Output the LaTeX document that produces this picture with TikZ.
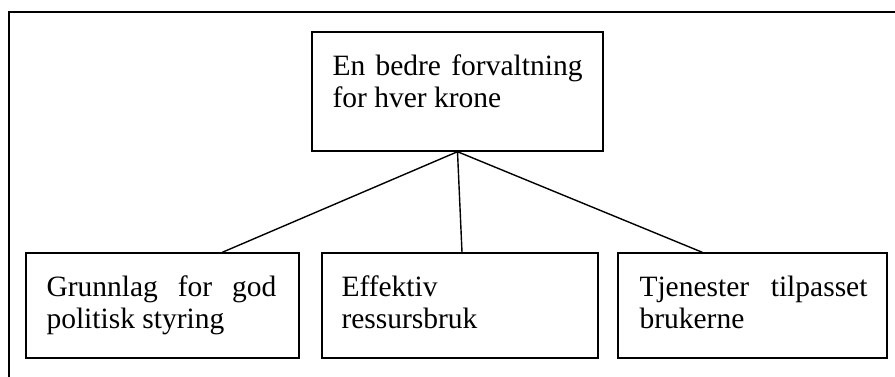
\documentclass[tikz,border=0pt]{standalone}
\usepackage{fontspec}
\setmainfont{Liberation Serif}
\usetikzlibrary{calc}
\tikzset{
  box/.style={draw=black, line width=1.4pt, rectangle, inner sep=0pt},
  txt/.style={inner sep=0pt, anchor=base west, text=black},
  link/.style={draw=black, line width=1.4pt},
  frame/.style={draw=black, line width=1.5pt}
}
\newcommand{\boxtext}[2]{\parbox[t]{#1}{\fontsize{29.5}{32.5}\selectfont\tolerance=10000\hbadness=10000\parindent=0pt #2}}
\begin{document}
\begin{tikzpicture}[x=1pt,y=-1pt]
\useasboundingbox (0,0) rectangle (895,376);
\clip (0,0) rectangle (895,376);
\fill[white] (0,0) rectangle (895,376);
\draw[frame] (9,12) rectangle (905,390);
% boxes
\node[box, minimum width=291pt, minimum height=119pt] (b0) at (457.5,91.5) {};
\node[box, minimum width=273pt, minimum height=105pt] (b1) at (162.5,305.5) {};
\node[box, minimum width=276pt, minimum height=105pt] (b2) at (460,305.5) {};
\node[box, minimum width=269pt, minimum height=105pt] (b3) at (752.5,305.5) {};
% texts
\node[txt] (t0) at ($(b0.north west)+(21,44)$) {\boxtext{250pt}{En bedre forvaltning for hver krone}};
\node[txt] (t1) at ($(b1.north west)+(21,44)$) {\boxtext{230pt}{Grunnlag for god politisk styring}};
\node[txt] (t2) at ($(b2.north west)+(20,44)$) {\boxtext{230pt}{Effektiv ressursbruk}};
\node[txt] (t3) at ($(b3.north west)+(22,44)$) {\boxtext{228pt}{Tjenester tilpasset brukerne}};
% connectors
\draw[link] (b0.south) -- ($(b1.north west)+(197,0)$);
\draw[link] (b0.south) -- ($(b2.north)+(2,0)$);
\draw[link] (b0.south) -- ($(b3.north west)+(85,0)$);
\end{tikzpicture}
\end{document}
